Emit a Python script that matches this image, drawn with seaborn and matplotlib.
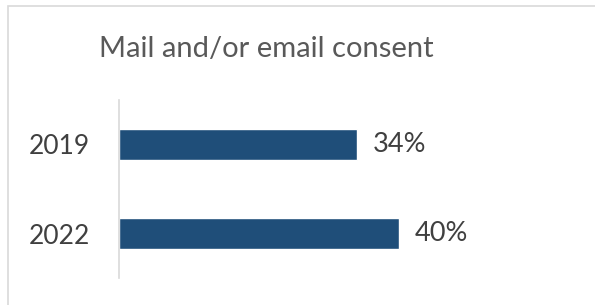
import matplotlib
matplotlib.use("Agg")
import matplotlib.pyplot as plt
import seaborn as sns
import pandas as pd
from matplotlib.patches import Rectangle

years = ["2019", "2022"]
values = [34, 40]
labels = ["34%", "40%"]
title = "Mail and/or email consent"

sns.set_theme(style="white")
plt.rcParams['font.family'] = ['Lato', 'DejaVu Sans']

df = pd.DataFrame({"year": years, "value": values})

fig = plt.figure(figsize=(5.95, 3.05), dpi=100)
ax = fig.add_axes([119/595, 1-278/305, 420/595, 178/305])

sns.barplot(data=df, x="value", y="year", orient="h", color="#1F4E79",
            width=0.353, saturation=1, ax=ax)

for i, (v, t) in enumerate(zip(values, labels)):
    ax.text(v + 2.2, i, t, va="center", ha="left", fontsize=19.5, color="#404040")

ax.set_xlim(0, 60)
ax.set_ylim(1.5, -0.5)
ax.set_xlabel("")
ax.set_ylabel("")
ax.set_xticks([])
for s in ["top", "right", "bottom"]:
    ax.spines[s].set_visible(False)
ax.spines["left"].set_color("#D9D9D9")
ax.spines["left"].set_linewidth(1.2)
ax.tick_params(axis="y", length=0, pad=21, labelsize=19, labelcolor="#404040")

fig.text(266/595, 1-57/305, title, ha="center", va="baseline", fontsize=21, color="#595959")

fig.patches.append(Rectangle((8/595, -0.1), 1.2, 1-5.5/305+0.1, transform=fig.transFigure,
                             fill=False, edgecolor="#D9D9D9", linewidth=1.2))

fig.savefig("out.png", dpi=100, facecolor="white")
